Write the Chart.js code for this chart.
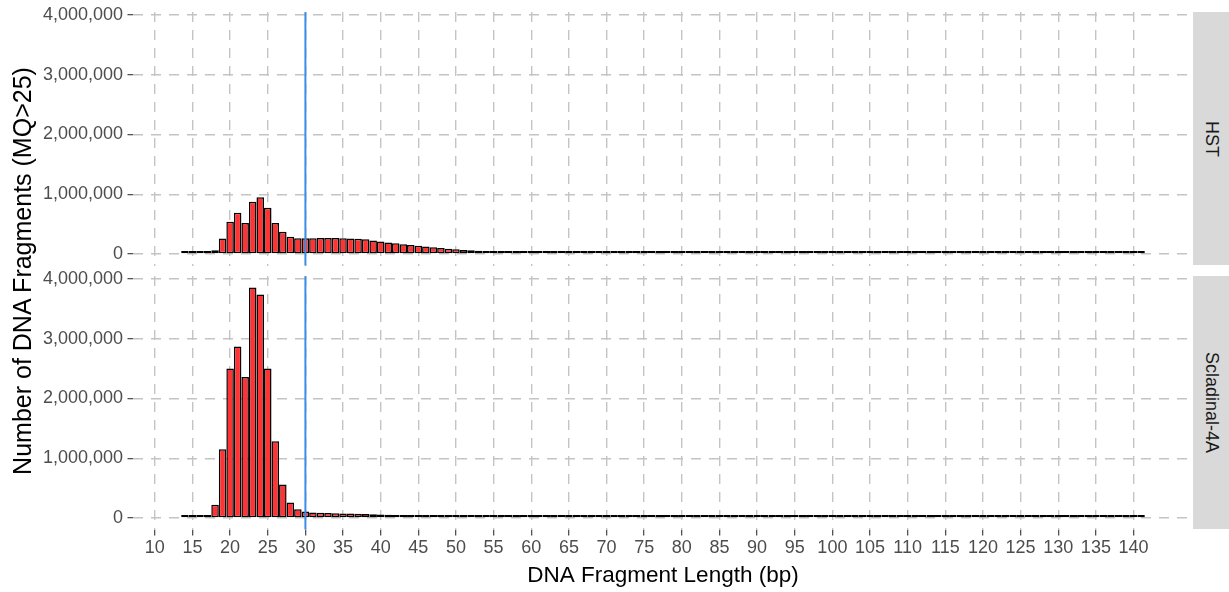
<!DOCTYPE html>
<html>
<head>
<meta charset="utf-8">
<script src="https://cdn.jsdelivr.net/npm/chart.js@4/dist/chart.umd.min.js"></script>
<style>
  html, body { margin: 0; padding: 0; background: #ffffff; }
  #wrap { position: relative; width: 1229px; height: 592px; overflow: hidden; font-family: 'Liberation Sans', Arial, sans-serif; }
  canvas { position: absolute; left: 0; }
  #cTop { top: 0; }
  #cBot { top: 266px; }
  .strip { position: absolute; left: 1193px; width: 36px; background: #D9D9D9; color: #1A1A1A; font-size: 18px;
           display: flex; align-items: center; justify-content: center; }
  .strip span { writing-mode: vertical-rl; }
  #ytitle { position: absolute; left: -278px; top: 256px; width: 600px; text-align: center; font-size: 25px; line-height: 30px;
            color: #000; transform: rotate(-90deg); transform-origin: 50% 50%; }
</style>
</head>
<body>
<div id="wrap">
  <canvas id="cTop" width="1229" height="266"></canvas>
  <canvas id="cBot" width="1229" height="326"></canvas>
  <div class="strip" style="top:12.1px;height:253.4px;"><span>HST</span></div>
  <div class="strip" style="top:276.1px;height:253.4px;"><span>Scladinal-4A</span></div>
  <div id="ytitle">Number of DNA Fragments (MQ&gt;25)</div>
</div>
<script>
// Fragment length bins (bp)
const fragmentLengths = [
  14,15,16,17,18,19,20,21,22,23,24,25,26,27,28,29,30,31,32,33,34,35,36,37,38,39,40,
  41,42,43,44,45,46,47,48,49,50,51,52,53,54,55,56,57,58,59,60,
  61,62,63,64,65,66,67,68,69,70,71,72,73,74,75,76,77,78,79,80,
  81,82,83,84,85,86,87,88,89,90,91,92,93,94,95,96,97,98,99,100,
  101,102,103,104,105,106,107,108,109,110,111,112,113,114,115,116,117,118,119,120,
  121,122,123,124,125,126,127,128,129,130,131,132,133,134,135,136,137,138,139,140,141
];

// Fragment counts per length, HST sample
const hstCounts = [
  2000,4000,9000,25000,62000,260000,540000,690000,520000,875000,950000,775000,520000,370000,290000,262000,262000,
  265000,267000,268000,267000,264000,259000,253000,246000,225000,207000,
  191000,178000,163000,150000,136000,124000,112000,100000,89000,78000,
  68000,61000,55000,49000,44000,39000,34000,29000,25000,22000,
  20000,19000,18000,17000,16000,15500,15000,14500,14000,13500,
  13000,12600,12200,11800,11400,11000,10700,10400,10100,9800,
  9500,9200,9000,8700,8500,8200,8000,7800,7600,7400,
  7200,7000,6800,6600,6400,6300,6100,6000,5800,5700,
  5500,5400,5300,5100,5000,4900,4800,4700,4600,4500,
  4400,4300,4200,4100,4000,3900,3800,3700,3650,3600,
  3500,3450,3400,3300,3250,3200,3100,3050,3000,2950,
  2900,2850,2800,2750,2700,2650,2600,2550,2500,2450,2400
];

// Fragment counts per length, Scladinal-4A sample
const scladinaCounts = [
  1000,3000,12000,35000,220000,1150000,2500000,2870000,2360000,3855000,3740000,2500000,1285000,560000,257000,145000,110000,
  90000,86000,83000,80000,77000,74000,70000,66000,62000,58000,
  54000,50000,46000,42000,38000,34000,31000,28000,25000,23000,
  21000,19500,18000,16500,15000,14000,13000,12000,11200,10500,
  10000,9500,9000,8600,8200,7800,7500,7200,6900,6600,
  6300,6000,5800,5600,5400,5200,5000,4800,4600,4450,
  4300,4150,4000,3850,3700,3600,3500,3400,3300,3200,
  3100,3000,2900,2800,2700,2650,2600,2500,2450,2400,
  2300,2250,2200,2150,2100,2050,2000,1950,1900,1850,
  1800,1750,1700,1650,1600,1560,1520,1480,1440,1400,
  1360,1330,1300,1270,1240,1210,1180,1150,1120,1090,
  1060,1030,1000,980,960,940,920,900,880,860,840
];

// Axis breaks
const xTicks = [10,15,20,25,30,35,40,45,50,55,60,65,70,75,80,85,90,95,100,105,110,115,120,125,130,135,140];
const yTicks = [0,1000000,2000000,3000000,4000000];

// Minimum length cutoff marker (bp)
const cutoffLength = 30;

Chart.defaults.font.family = "'Liberation Sans', Arial, sans-serif";

// Shared limits: bins span half a unit either side, padded by 5% like a faceted histogram
const binLo = fragmentLengths[0] - 0.5;
const binHi = fragmentLengths[fragmentLengths.length - 1] + 0.5;
const xPad = (binHi - binLo) * 0.05;
const yMaxData = Math.max(...hstCounts, ...scladinaCounts);
const yLo = -0.05 * yMaxData;
const yHi = 1.05 * yMaxData;

const cutoffPlugin = {
  id: 'cutoffLine',
  afterDatasetsDraw(chart) {
    const { ctx, chartArea, scales } = chart;
    const x = scales.x.getPixelForValue(cutoffLength);
    ctx.save();
    ctx.strokeStyle = '#3A8EE6';
    ctx.lineWidth = 2;
    ctx.beginPath();
    ctx.moveTo(x, chartArea.top);
    ctx.lineTo(x, chartArea.bottom);
    ctx.stroke();
    ctx.restore();
  }
};

const gridColor = '#C4C4C4';

function makePanel(canvasId, counts, showX, padTop) {
  return new Chart(document.getElementById(canvasId), {
    type: 'bar',
    data: {
      datasets: [{
        data: fragmentLengths.map((len, i) => ({ x: len, y: counts[i] })),
        backgroundColor: '#FF3333',
        borderColor: '#000000',
        borderWidth: 1.5,
        borderSkipped: false,
        inflateAmount: 0,
        minBarLength: 3,
        barPercentage: 1,
        categoryPercentage: 1
      }]
    },
    options: {
      responsive: false,
      animation: false,
      layout: { padding: { top: padTop, right: 36, bottom: showX ? 0 : 0.5, left: 0 } },
      plugins: { legend: { display: false }, tooltip: { enabled: false } },
      scales: {
        x: {
          type: 'linear',
          offset: false,
          min: binLo - xPad,
          max: binHi + xPad,
          afterBuildTicks(s) { s.ticks = xTicks.map(v => ({ value: v })); },
          afterFit(s) { s.height = showX ? 62.5 : 0; s.paddingLeft = 0; s.paddingRight = 0; },
          grid: {
            offset: false,
            color: gridColor,
            lineWidth: 1.4,
            drawTicks: showX,
            tickLength: 6,
            tickColor: '#333333',
            tickWidth: 1.1,
            tickBorderDash: []
          },
          border: { display: false, dash: [10, 8] },
          ticks: {
            display: showX,
            autoSkip: false,
            maxRotation: 0,
            padding: 2,
            color: '#4D4D4D',
            font: { size: 18 }
          },
          title: {
            display: showX,
            text: 'DNA Fragment Length (bp)',
            color: '#000000',
            font: { size: 22.5 },
            padding: { top: 0, bottom: 3 }
          }
        },
        y: {
          min: yLo,
          max: yHi,
          afterBuildTicks(s) { s.ticks = yTicks.map(v => ({ value: v })); },
          afterFit(s) { s.width = 133; s.paddingTop = 0; s.paddingBottom = 0; },
          grid: {
            color: gridColor,
            lineWidth: 1.4,
            drawTicks: true,
            tickLength: 5.5,
            tickColor: '#333333',
            tickWidth: 1.1,
            tickBorderDash: []
          },
          border: { display: false, dash: [10, 8] },
          ticks: {
            padding: 4.5,
            color: '#4D4D4D',
            font: { size: 18 },
            callback: v => v.toLocaleString('en-US')
          }
        }
      }
    },
    plugins: [cutoffPlugin]
  });
}

makePanel('cTop', hstCounts, false, 12.1);
makePanel('cBot', scladinaCounts, true, 10.1);
</script>
</body>
</html>
